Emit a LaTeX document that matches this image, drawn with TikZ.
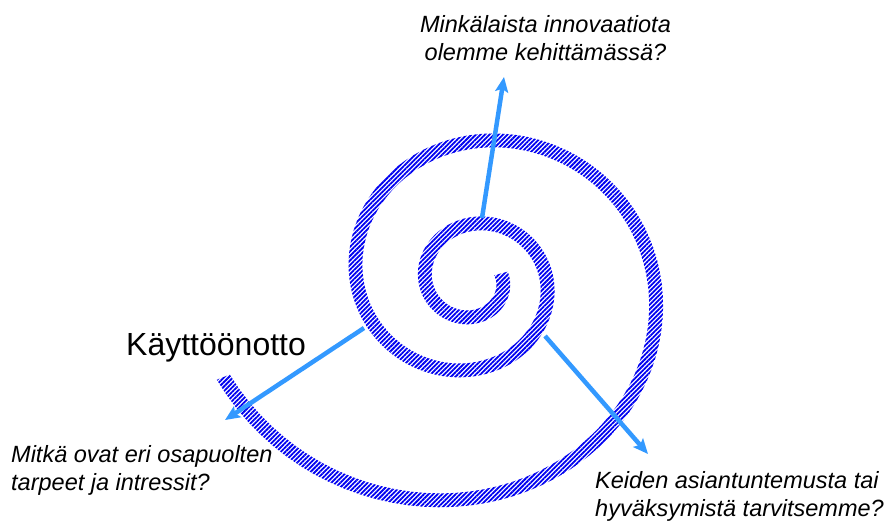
\documentclass[tikz,border=0pt]{standalone}
\usepackage{fontspec}
\setmainfont{Liberation Sans}
\usetikzlibrary{arrows.meta,patterns.meta}

\definecolor{hatchblue}{RGB}{0,0,240}
\definecolor{arrowblue}{RGB}{51,153,255}

\begin{document}
\begin{tikzpicture}[x=1pt, y=-1pt, line join=round,
  band/.style={pattern={Lines[angle=45, distance=3.2pt, line width=1.8pt]}, pattern color=hatchblue},
  pointer/.style={draw=arrowblue, line width=4.5pt, -{Stealth[length=15pt, width=13pt, inset=3pt]}},
  question/.style={font=\itshape\fontsize{23.5}{28}\selectfont, inner sep=0pt}]

  % ── 斜线填充的螺旋带（指数螺旋，中心 (472.7,280.7)，带宽 14）──
  \fill[band] plot[domain=-15:878, samples=240, variable=\t]
      ({472.7 + (30.3*exp(0.002489*\t)+7)*cos(\t)}, {280.7 + (29*exp(0.002489*\t)+7)*sin(\t)})
    -- plot[domain=878:-15, samples=240, variable=\t]
      ({472.7 + (30.3*exp(0.002489*\t)-7)*cos(\t)}, {280.7 + (29*exp(0.002489*\t)-7)*sin(\t)})
    -- cycle;

  % ── 三个问题 + 标题（多行节点的 base = 末行基线）──
  \node[question, anchor=base, align=center] (innov) at (545.5,60)
    {Minkälaista innovaatiota\\olemme kehittämässä?};
  \node[question, anchor=base west, align=left] (parties) at (11,490)
    {Mitkä ovat eri osapuolten\\tarpeet ja intressit?};
  \node[question, anchor=base west, align=left] (experts) at (595,516.5)
    {Keiden asiantuntemusta tai\\hyväksymistä tarvitsemme?};
  \node[anchor=base west, inner sep=0pt, font=\fontsize{32}{38}\selectfont] (deploy) at (126,355) {Käyttöönotto};

  % ── 箭头的起点（螺旋带外缘）与尖端 ──
  \coordinate (innovfrom) at (482,218);
  \coordinate (innovtip)  at (504,77);
  \coordinate (partiesfrom) at (364,328);
  \coordinate (partiestip)  at (225,420);
  \coordinate (expertsfrom) at (545,336);
  \coordinate (expertstip)  at (648,454);

  \draw[pointer] (innovfrom) -- (innovtip);
  \draw[pointer] (partiesfrom) -- (partiestip);
  \draw[pointer] (expertsfrom) -- (expertstip);

  \pgfresetboundingbox
  \path[use as bounding box] (0,0) rectangle (891,520);
\end{tikzpicture}
\end{document}
